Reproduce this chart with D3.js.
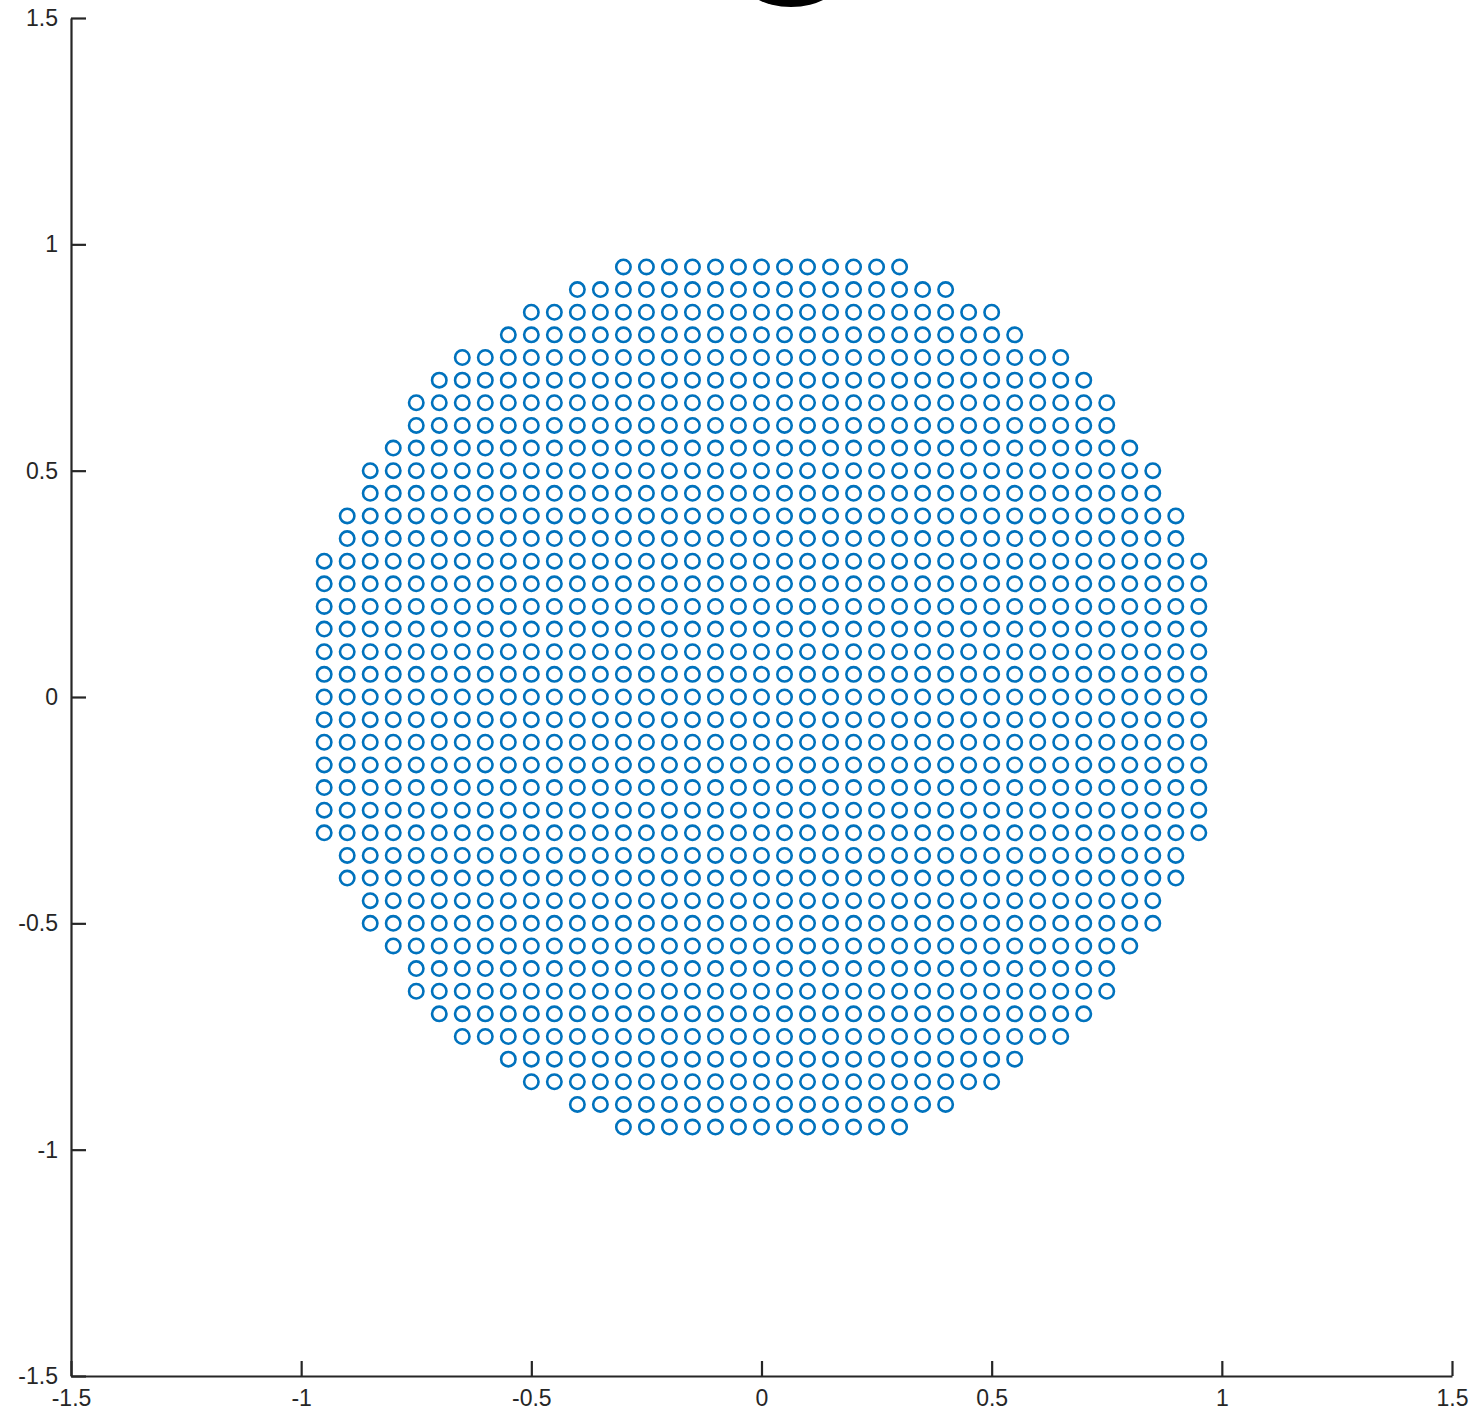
<!DOCTYPE html>
<html>
<head>
<meta charset="utf-8">
<script src="https://cdn.jsdelivr.net/npm/d3@7"></script>
<style>
  body { margin: 0; background: #fff; }
  svg { display: block; }
</style>
</head>
<body>
<svg id="chart" width="1476" height="1414"></svg>
<script>
// row heights of the grid (y) and the half width of each row (x runs -w..w in 0.05 steps)
const rowY = [0.95, 0.9, 0.85, 0.8, 0.75, 0.7, 0.65, 0.6, 0.55, 0.5, 0.45, 0.4, 0.35, 0.3,
  0.25, 0.2, 0.15, 0.1, 0.05, 0, -0.05, -0.1, -0.15, -0.2, -0.25,
  -0.3, -0.35, -0.4, -0.45, -0.5, -0.55, -0.6, -0.65, -0.7, -0.75, -0.8, -0.85, -0.9, -0.95];
const rowHalf = [0.3, 0.4, 0.5, 0.55, 0.65, 0.7, 0.75, 0.75, 0.8, 0.85, 0.85, 0.9, 0.9, 0.95,
  0.95, 0.95, 0.95, 0.95, 0.95, 0.95, 0.95, 0.95, 0.95, 0.95, 0.95,
  0.95, 0.9, 0.9, 0.85, 0.85, 0.8, 0.75, 0.75, 0.7, 0.65, 0.55, 0.5, 0.4, 0.3];
const gridStep = 0.05;
const xTicks = [-1.5, -1, -0.5, 0, 0.5, 1, 1.5];
const yTicks = [-1.5, -1, -0.5, 0, 0.5, 1, 1.5];

// build the point list row by row
let points = [];
rowY.forEach(function(y, i) {
  let n = Math.round(rowHalf[i] / gridStep);
  for (let k = -n; k <= n; k++) {
    points.push({x: k * gridStep, y: y});
  }
});

let svg = d3.select("#chart");
let plotLeft = 71, plotRight = 1452, plotTop = 18, plotBottom = 1376;

let xScale = d3.scaleLinear().domain([-1.5, 1.5]).range([plotLeft, plotRight]);
let yScale = d3.scaleLinear().domain([-1.5, 1.5]).range([plotBottom, plotTop]);

let axisColor = "#262626";
let font = "'Liberation Sans', Arial, Helvetica, sans-serif";
let plainNum = d => String(d); // hyphen minus, not the unicode one

// clipped blob at the very top (bottom of an oversized title glyph)
svg.append("ellipse")
  .attr("cx", 791)
  .attr("cy", -23)
  .attr("rx", 50)
  .attr("ry", 30)
  .attr("fill", "#000");

// points
svg.append("g").selectAll("circle")
  .data(points)
  .enter()
  .append("circle")
  .attr("cx", d => xScale(d.x))
  .attr("cy", d => yScale(d.y))
  .attr("r", 7.2)
  .attr("fill", "none")
  .attr("stroke", "#0072BD")
  .attr("stroke-width", 2.6);

// axes (ticks point inward, like matlab)
let xAxis = d3.axisBottom(xScale).tickValues(xTicks).tickFormat(plainNum).tickSizeInner(-15).tickSizeOuter(0).tickPadding(12);
let yAxis = d3.axisLeft(yScale).tickValues(yTicks).tickFormat(plainNum).tickSizeInner(-15).tickSizeOuter(0).tickPadding(13);

let gx = svg.append("g")
  .attr("transform", "translate(0," + plotBottom + ")")
  .call(xAxis);
let gy = svg.append("g")
  .attr("transform", "translate(" + plotLeft + ",0)")
  .call(yAxis);

[gx, gy].forEach(function(g) {
  g.select(".domain").attr("stroke", axisColor).attr("stroke-width", 2.2);
  g.selectAll(".tick line").attr("stroke", axisColor).attr("stroke-width", 2.2);
  g.selectAll(".tick text")
    .attr("fill", axisColor)
    .style("font-family", font)
    .style("font-size", "23px");
});
gx.selectAll(".tick text").attr("dy", "0.78em");
</script>
</body>
</html>
